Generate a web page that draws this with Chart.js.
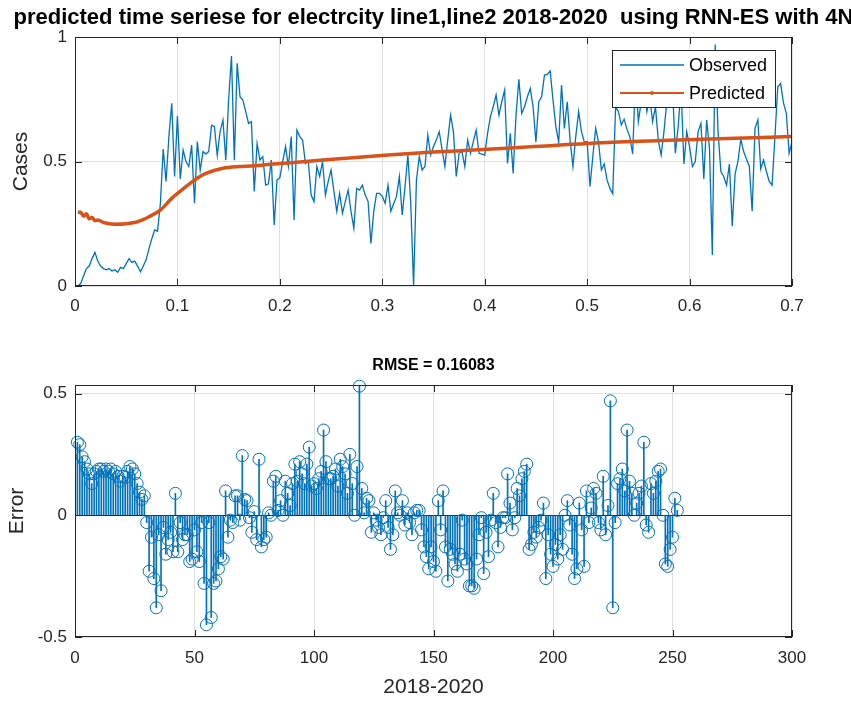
<!DOCTYPE html>
<html>
<head>
<meta charset="utf-8">
<title>RNN-ES prediction</title>
<script src="https://cdn.jsdelivr.net/npm/chart.js@4.4.1/dist/chart.umd.min.js"></script>
<style>
  html, body { margin: 0; padding: 0; background: #fff; overflow: hidden; }
  .pane { position: absolute; left: 0; }
  #upper { top: 0; }
  #lower { top: 340px; }
</style>
</head>
<body>
<div class="pane" id="upper"><canvas id="seriesChart" width="851" height="340"></canvas></div>
<div class="pane" id="lower"><canvas id="errorChart" width="851" height="362"></canvas></div>
<script>
// observed load, samples 1..252
const observed = [
  0.00, 0.01, 0.04, 0.07, 0.08, 0.11, 0.135, 0.10, 0.08, 0.07,
  0.065, 0.07, 0.06, 0.065, 0.055, 0.075, 0.07, 0.09, 0.11, 0.095,
  0.10, 0.08, 0.057, 0.08, 0.105, 0.15, 0.19, 0.225, 0.22, 0.33,
  0.55, 0.42, 0.60, 0.734, 0.44, 0.683, 0.43, 0.546, 0.50, 0.48,
  0.566, 0.332, 0.58, 0.465, 0.54, 0.53, 0.54, 0.646, 0.64, 0.525,
  0.62, 0.667, 0.505, 0.75, 0.924, 0.505, 0.894, 0.76, 0.747, 0.70,
  0.653, 0.66, 0.38, 0.572, 0.506, 0.52, 0.405, 0.41, 0.506, 0.245,
  0.426, 0.435, 0.50, 0.56, 0.48, 0.60, 0.265, 0.626, 0.60, 0.586,
  0.492, 0.50, 0.365, 0.339, 0.48, 0.44, 0.50, 0.365, 0.42, 0.466,
  0.38, 0.30, 0.372, 0.292, 0.34, 0.385, 0.30, 0.232, 0.392, 0.385,
  0.405, 0.365, 0.34, 0.171, 0.30, 0.372, 0.372, 0.36, 0.332, 0.405,
  0.30, 0.33, 0.36, 0.44, 0.285, 0.40, 0.526, 0.332, 0.00, 0.426,
  0.52, 0.466, 0.48, 0.606, 0.526, 0.56, 0.586, 0.62, 0.55, 0.48,
  0.586, 0.686, 0.62, 0.44, 0.533, 0.54, 0.48, 0.586, 0.533, 0.58,
  0.626, 0.533, 0.53, 0.526, 0.613, 0.68, 0.72, 0.767, 0.686, 0.74,
  0.787, 0.492, 0.613, 0.452, 0.686, 0.83, 0.693, 0.72, 0.76, 0.793,
  0.72, 0.578, 0.74, 0.76, 0.847, 0.85, 0.864, 0.747, 0.64, 0.578,
  0.807, 0.633, 0.74, 0.586, 0.48, 0.60, 0.70, 0.62, 0.578, 0.58,
  0.40, 0.52, 0.633, 0.578, 0.466, 0.49, 0.426, 0.392, 0.37, 0.72,
  0.70, 0.647, 0.67, 0.63, 0.60, 0.53, 0.84, 0.66, 0.74, 0.79,
  0.70, 0.76, 0.66, 0.72, 0.586, 0.526, 0.62, 0.74, 0.845, 0.80,
  0.533, 0.64, 0.80, 0.49, 0.62, 0.56, 0.48, 0.50, 0.62, 0.653,
  0.43, 0.667, 0.55, 0.125, 0.97, 0.62, 0.46, 0.44, 0.405, 0.49,
  0.24, 0.45, 0.50, 0.59, 0.54, 0.51, 0.48, 0.30, 0.633, 0.667,
  0.47, 0.506, 0.46, 0.42, 0.405, 0.60, 0.80, 0.813, 0.735, 0.693,
  0.533, 0.58
];

// model output, taken at these sample numbers
const predIdx = [1, 2, 3, 4, 5, 6, 7, 8, 10, 14, 18, 22, 26, 30, 34, 38, 42, 46,
  52, 58, 62, 70, 80, 94, 110, 126, 140, 160, 189, 220, 252];
const predicted = [0.296, 0.296, 0.28, 0.29, 0.27, 0.275, 0.262, 0.265, 0.255, 0.248,
  0.25, 0.258, 0.278, 0.305, 0.352, 0.39, 0.425, 0.452, 0.473, 0.48, 0.482, 0.49,
  0.499, 0.512, 0.526, 0.538, 0.546, 0.559, 0.577, 0.589, 0.60];

// predicted minus observed, per sample
const errors = [
  0.30, 0.29, 0.24, 0.22, 0.19, 0.17, 0.13, 0.17, 0.18, 0.19,
  0.19, 0.18, 0.19, 0.18, 0.19, 0.17, 0.18, 0.16, 0.14, 0.16,
  0.155, 0.18, 0.20, 0.19, 0.17, 0.13, 0.095, 0.065, 0.08, -0.03,
  -0.23, -0.09, -0.26, -0.38, -0.08, -0.31, -0.05, -0.16, -0.10, -0.07,
  -0.15, 0.09, -0.15, -0.03, -0.10, -0.08, -0.08, -0.19, -0.18, -0.06,
  -0.15, -0.19, -0.03, -0.28, -0.45, -0.03, -0.42, -0.28, -0.27, -0.22,
  -0.17, -0.18, 0.10, -0.09, -0.02, -0.03, 0.08, 0.08, -0.02, 0.245,
  0.065, 0.06, -0.01, -0.07, 0.015, -0.10, 0.23, -0.13, -0.10, -0.09,
  0.01, 0.00, 0.14, 0.16, 0.02, 0.06, 0.00, 0.14, 0.09, 0.04,
  0.13, 0.21, 0.14, 0.22, 0.17, 0.13, 0.21, 0.28, 0.12, 0.13,
  0.11, 0.15, 0.18, 0.35, 0.22, 0.15, 0.15, 0.16, 0.19, 0.12,
  0.23, 0.20, 0.17, 0.09, 0.25, 0.13, 0.00, 0.20, 0.53, 0.11,
  0.01, 0.07, 0.06, -0.07, 0.01, -0.02, -0.05, -0.08, -0.01, 0.06,
  -0.05, -0.14, -0.08, 0.10, 0.01, 0.00, 0.06, -0.04, 0.01, -0.03,
  -0.08, 0.01, 0.02, 0.02, -0.06, -0.13, -0.17, -0.22, -0.13, -0.19,
  -0.23, 0.06, -0.06, 0.10, -0.13, -0.27, -0.14, -0.16, -0.20, -0.23,
  -0.16, -0.02, -0.18, -0.20, -0.29, -0.29, -0.30, -0.18, -0.08, -0.01,
  -0.24, -0.07, -0.17, -0.02, 0.09, -0.03, -0.13, -0.05, -0.01, -0.01,
  0.17, 0.05, -0.06, -0.01, 0.11, 0.08, 0.15, 0.18, 0.21, -0.14,
  -0.12, -0.07, -0.09, -0.05, -0.02, 0.05, -0.26, -0.08, -0.16, -0.21,
  -0.12, -0.18, -0.08, -0.14, 0.00, 0.06, -0.04, -0.16, -0.26, -0.22,
  0.05, -0.06, -0.21, 0.10, -0.03, 0.03, 0.11, 0.09, -0.03, -0.06,
  0.16, -0.08, 0.04, 0.47, -0.38, -0.03, 0.13, 0.15, 0.19, 0.10,
  0.35, 0.14, 0.09, 0.00, 0.05, 0.09, 0.12, 0.30, -0.04, -0.07,
  0.13, 0.09, 0.14, 0.18, 0.19, 0.00, -0.20, -0.21, -0.14, -0.09,
  0.07, 0.02
];

const seriesXTicks = [0, 0.1, 0.2, 0.3, 0.4, 0.5, 0.6, 0.7];
const seriesYTicks = [0, 0.5, 1];
const errorXTicks = [0, 50, 100, 150, 200, 250, 300];
const errorYTicks = [-0.5, 0, 0.5];

const titleText = 'predicted time seriese for electrcity line1,line2 2018-2020  using RNN-ES with 4N';
const rmseText = 'RMSE = 0.16083';

const blue = '#0072BD';
const orange = '#D95319';
const axisColor = '#262626';
const gridColor = '#e0e0e0';
const family = '"Liberation Sans", Arial, Helvetica, sans-serif';

// upper axis runs 0..0.7 over the whole sample range
const span = 0.7;
const toSpan = (k) => k * span / observed.length;

function fixedTicks(values) {
  return (scale) => { scale.ticks = values.map(v => ({ value: v })); };
}

// matlab-like box with inward ticks, a bold title and an in-axes legend
const axesFrame = {
  id: 'axesFrame',
  afterDraw(chart, args, opts) {
    const { ctx, chartArea: a, scales: { x, y } } = chart;
    ctx.save();
    ctx.strokeStyle = axisColor;
    ctx.lineWidth = 1;
    ctx.strokeRect(a.left + 0.5, a.top + 0.5, a.right - a.left - 1, a.bottom - a.top - 1);

    ctx.beginPath();
    x.ticks.forEach(t => {
      const px = Math.round(x.getPixelForValue(t.value)) + 0.5;
      ctx.moveTo(px, a.bottom); ctx.lineTo(px, a.bottom - 7);
      ctx.moveTo(px, a.top); ctx.lineTo(px, a.top + 7);
    });
    y.ticks.forEach(t => {
      const py = Math.round(y.getPixelForValue(t.value)) + 0.5;
      ctx.moveTo(a.left, py); ctx.lineTo(a.left + 7, py);
      ctx.moveTo(a.right, py); ctx.lineTo(a.right - 7, py);
    });
    ctx.stroke();

    ctx.fillStyle = '#000';
    ctx.font = opts.titleFont;
    ctx.textAlign = 'center';
    ctx.textBaseline = 'middle';
    ctx.fillText(opts.title, (a.left + a.right) / 2, opts.titleY);

    const L = opts.legend;
    if (L) {
      ctx.fillStyle = '#fff';
      ctx.fillRect(L.left, L.top, L.width, L.height);
      ctx.strokeStyle = axisColor;
      ctx.strokeRect(L.left + 0.5, L.top + 0.5, L.width, L.height);
      chart.data.datasets.forEach((ds, i) => {
        const ly = L.top + 15 + i * 28;
        ctx.strokeStyle = ds.borderColor;
        ctx.lineWidth = i === 0 ? 1.3 : 2;
        ctx.beginPath();
        ctx.moveTo(L.left + 8, ly);
        ctx.lineTo(L.left + 72, ly);
        ctx.stroke();
        if (i === 1) {
          ctx.fillStyle = ds.borderColor;
          ctx.beginPath();
          ctx.arc(L.left + 40, ly, 2, 0, Math.PI * 2);
          ctx.fill();
        }
        ctx.fillStyle = '#000';
        ctx.font = '18px ' + family;
        ctx.textAlign = 'left';
        ctx.fillText(ds.label, L.left + 77, ly + 1);
      });
    }
    ctx.restore();
  }
};

const tickFont = { family: family, size: 17 };
const labelFont = { family: family, size: 21 };

new Chart(document.getElementById('seriesChart'), {
  type: 'line',
  data: {
    datasets: [
      {
        label: 'Observed',
        data: observed.map((v, i) => ({ x: toSpan(i + 1), y: v })),
        borderColor: blue,
        borderWidth: 1.3,
        pointRadius: 0,
        order: 1
      },
      {
        label: 'Predicted',
        data: predicted.map((v, i) => ({ x: toSpan(predIdx[i]), y: v })),
        borderColor: orange,
        borderWidth: 3.5,
        pointRadius: 0,
        cubicInterpolationMode: 'monotone',
        order: 0
      }
    ]
  },
  options: {
    responsive: false,
    animation: false,
    layout: { padding: { top: 37, right: 59, left: 0, bottom: 0 } },
    scales: {
      x: {
        type: 'linear', min: 0, max: span,
        afterBuildTicks: fixedTicks(seriesXTicks),
        afterFit: (s) => { s.height = 54; },
        grid: { color: gridColor, drawTicks: false },
        border: { display: false },
        ticks: { color: axisColor, font: tickFont, padding: 10, maxRotation: 0, autoSkip: false,
                 callback: (v) => String(v) }
      },
      y: {
        min: 0, max: 1,
        afterBuildTicks: fixedTicks(seriesYTicks),
        afterFit: (s) => { s.width = 75; },
        grid: { color: gridColor, drawTicks: false },
        border: { display: false },
        ticks: { color: axisColor, font: tickFont, padding: 8, callback: (v) => String(v) },
        title: { display: true, text: 'Cases', color: axisColor, font: labelFont, padding: { top: 9 } }
      }
    },
    plugins: {
      legend: { display: false },
      tooltip: { enabled: false },
      axesFrame: {
        title: titleText,
        titleFont: 'bold 22px ' + family,
        titleY: 18,
        legend: { left: 612, top: 50, width: 163, height: 57 }
      }
    }
  },
  plugins: [axesFrame]
});

new Chart(document.getElementById('errorChart'), {
  type: 'bar',
  data: {
    datasets: [
      {
        type: 'bar',
        label: 'stems',
        data: errors.map((v, i) => ({ x: i + 1, y: v })),
        backgroundColor: blue,
        barThickness: 1,
        order: 1
      },
      {
        type: 'scatter',
        label: 'markers',
        data: errors.map((v, i) => ({ x: i + 1, y: v })),
        pointStyle: 'circle',
        pointRadius: 6,
        pointBorderWidth: 1,
        pointBorderColor: blue,
        pointBackgroundColor: 'rgba(0,0,0,0)',
        clip: false,
        order: 0
      }
    ]
  },
  options: {
    responsive: false,
    animation: false,
    layout: { padding: { top: 45, right: 59, left: 0, bottom: 0 } },
    scales: {
      x: {
        type: 'linear', min: 0, max: 300, offset: false,
        afterBuildTicks: fixedTicks(errorXTicks),
        afterFit: (s) => { s.height = 65; },
        grid: { color: gridColor, drawTicks: false, offset: false },
        border: { display: false },
        ticks: { color: axisColor, font: tickFont, padding: 11, maxRotation: 0, autoSkip: false,
                 callback: (v) => String(v) },
        title: { display: true, text: '2018-2020', color: axisColor, font: labelFont, padding: { bottom: 2 } }
      },
      y: {
        min: -0.5, max: 0.535,
        afterBuildTicks: fixedTicks(errorYTicks),
        afterFit: (s) => { s.width = 75; },
        grid: { color: (c) => (c.tick && c.tick.value === 0 ? axisColor : gridColor), drawTicks: false },
        border: { display: false },
        ticks: { color: axisColor, font: tickFont, padding: 8, callback: (v) => String(v) },
        title: { display: true, text: 'Error', color: axisColor, font: labelFont, padding: { top: 5 } }
      }
    },
    plugins: {
      legend: { display: false },
      tooltip: { enabled: false },
      axesFrame: {
        title: rmseText,
        titleFont: 'bold 16px ' + family,
        titleY: 26
      }
    }
  },
  plugins: [axesFrame]
});
</script>
</body>
</html>
